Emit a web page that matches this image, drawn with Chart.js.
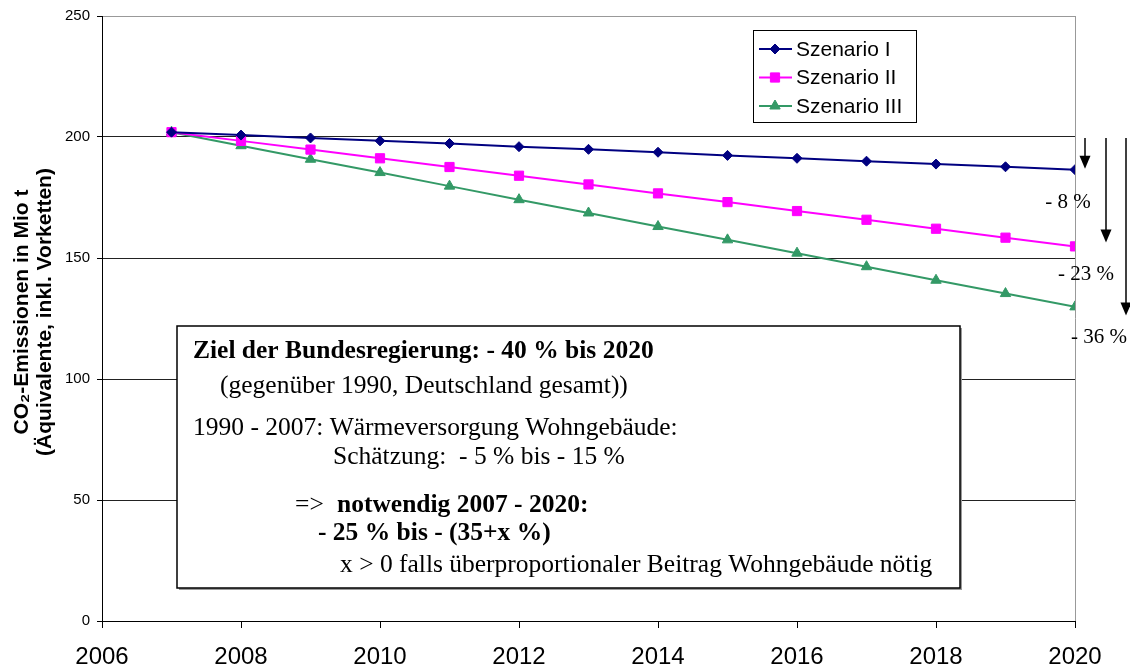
<!DOCTYPE html>
<html>
<head>
<meta charset="utf-8">
<script src="https://cdn.jsdelivr.net/npm/chart.js@4/dist/chart.umd.min.js"></script>
<style>
  html, body { margin: 0; padding: 0; background: #fff; }
  #wrap { width: 1130px; height: 670px; }
</style>
</head>
<body>
<div id="wrap"><canvas id="c" width="1130" height="670"></canvas></div>
<script>
// Daten
const years = [2007, 2008, 2009, 2010, 2011, 2012, 2013, 2014, 2015, 2016, 2017, 2018, 2019, 2020];
const szenario1 = [202, 200.8, 199.6, 198.4, 197.3, 196.0, 194.9, 193.7, 192.4, 191.2, 190.0, 188.8, 187.7, 186.5];
const szenario2 = [202, 198.4, 194.8, 191.2, 187.6, 184.0, 180.4, 176.7, 173.1, 169.4, 165.8, 162.1, 158.4, 154.8];
const szenario3 = [202, 196.4, 190.8, 185.3, 179.7, 174.1, 168.6, 163.0, 157.5, 152.0, 146.4, 140.8, 135.3, 129.8];
const seriesNames = ["Szenario I", "Szenario II", "Szenario III"];

// Pfeile rechts: von 200 bis ... und Beschriftung
const arrowFrom = 200;
const arrowTo = [186.9, 156.4, 126.2];
const arrowLabels = ["- 8 %", "- 23 %", "- 36 %"];
const arrowLabelY = [172.9, 143.2, 117.2];

const yTitle = ["CO\u2082-Emissionen in Mio t", "(\u00c4quivalente, inkl. Vorketten)"];

const SANS = "'Liberation Sans', Arial, sans-serif";
const SERIF = "'Liberation Serif', 'Times New Roman', serif";

function pts(vals) {
  return years.map((y, i) => ({ x: y, y: vals[i] }));
}

function drawArrow(ctx, x, y1, y2) {
  ctx.save();
  ctx.strokeStyle = "#000";
  ctx.fillStyle = "#000";
  ctx.lineWidth = 1.5;
  ctx.beginPath();
  ctx.moveTo(x, y1);
  ctx.lineTo(x, y2 - 10);
  ctx.stroke();
  ctx.beginPath();
  ctx.moveTo(x - 5.5, y2 - 13);
  ctx.lineTo(x + 5.5, y2 - 13);
  ctx.lineTo(x, y2);
  ctx.closePath();
  ctx.fill();
  ctx.restore();
}

const extras = {
  id: "extras",
  afterDatasetsDraw(chart) {
    const ctx = chart.ctx;
    const a = chart.chartArea;
    const ys = chart.scales.y;

    // y-Achsentitel
    ctx.save();
    ctx.translate(33, 312);
    ctx.rotate(-Math.PI / 2);
    ctx.font = "bold 21px " + SANS;
    ctx.fillStyle = "#000";
    ctx.textAlign = "center";
    ctx.textBaseline = "middle";
    ctx.fillText(yTitle[0], 0, -11);
    ctx.fillText(yTitle[1], 0, 12);
    ctx.restore();

    // Pfeile + Prozentangaben
    const offs = [10, 31, 51];
    const lblOffs = [-7, 11, 24];
    arrowTo.forEach((v, i) => {
      drawArrow(ctx, a.right + offs[i], ys.getPixelForValue(arrowFrom) + 1, ys.getPixelForValue(v));
    });
    ctx.save();
    ctx.font = "21px " + SERIF;
    ctx.fillStyle = "#000";
    ctx.textAlign = "center";
    ctx.textBaseline = "middle";
    arrowLabels.forEach((t, i) => {
      ctx.fillText(t, a.right + lblOffs[i], ys.getPixelForValue(arrowLabelY[i]));
    });
    ctx.restore();

    // Textkasten
    ctx.save();
    const bx = 177, by = 326, bw = 783, bh = 262;
    ctx.fillStyle = "#9a9a9a";
    ctx.fillRect(bx + 2, by + 2, bw, bh);
    ctx.fillStyle = "#fff";
    ctx.fillRect(bx, by, bw, bh);
    ctx.strokeStyle = "#000";
    ctx.lineWidth = 1.5;
    ctx.strokeRect(bx, by, bw, bh);
    ctx.fillStyle = "#000";
    ctx.textAlign = "left";
    ctx.textBaseline = "alphabetic";
    const B = "bold 25.5px " + SERIF, N = "25.5px " + SERIF;
    const lines = [
      [B, "Ziel der Bundesregierung: - 40 % bis 2020", 193, 358],
      [N, "(gegen\u00fcber 1990, Deutschland gesamt))", 220, 393],
      [N, "1990 - 2007: W\u00e4rmeversorgung Wohngeb\u00e4ude:", 193, 435],
      [N, "Sch\u00e4tzung:  - 5 % bis - 15 %", 333, 464],
      [N, "=>", 295, 512],
      [B, "notwendig 2007 - 2020:", 337, 512],
      [B, "- 25 % bis - (35+x %)", 318, 540],
      [N, "x > 0 falls \u00fcberproportionaler Beitrag Wohngeb\u00e4ude n\u00f6tig", 340, 572]
    ];
    lines.forEach(l => {
      ctx.font = l[0];
      ctx.fillText(l[1], l[2], l[3]);
    });
    ctx.restore();

    // Legende
    ctx.save();
    const lx = 753, ly = 30, lw = 163, lh = 92;
    ctx.fillStyle = "#fff";
    ctx.fillRect(lx, ly, lw, lh);
    ctx.strokeStyle = "#000";
    ctx.lineWidth = 1;
    ctx.strokeRect(lx + 0.5, ly + 0.5, lw, lh);
    const rows = [49, 77.5, 106];
    chart.data.datasets.forEach((ds, i) => {
      const y = rows[i];
      ctx.strokeStyle = ds.borderColor;
      ctx.lineWidth = 2;
      ctx.beginPath();
      ctx.moveTo(759, y);
      ctx.lineTo(792, y);
      ctx.stroke();
      ctx.fillStyle = ds.pointBackgroundColor;
      ctx.strokeStyle = ds.pointBorderColor;
      ctx.lineWidth = 1;
      Chart.helpers.drawPoint(ctx, {
        pointStyle: ds.pointStyle,
        radius: ds.pointRadius,
        borderWidth: 1
      }, 775, y);
      ctx.fillStyle = "#000";
      ctx.font = "21px " + SANS;
      ctx.textAlign = "left";
      ctx.textBaseline = "middle";
      ctx.fillText(ds.label, 796, y + 1);
    });
    ctx.restore();
  }
};

const colors = ["#000080", "#ff00ff", "#339966"];
const styles = ["rectRot", "rect", "triangle"];
const radii = [5, 6.5, 6];
const allSeries = [szenario1, szenario2, szenario3];

new Chart(document.getElementById("c"), {
  type: "line",
  data: {
    datasets: allSeries.map((s, i) => ({
      label: seriesNames[i],
      data: pts(s),
      borderColor: colors[i],
      backgroundColor: colors[i],
      pointBackgroundColor: colors[i],
      pointBorderColor: colors[i],
      pointStyle: styles[i],
      pointRadius: radii[i],
      pointBorderWidth: 1,
      borderWidth: 2,
      tension: 0,
      fill: false
    }))
  },
  options: {
    responsive: false,
    animation: false,
    layout: { padding: { top: 15, right: 55, left: 0, bottom: 0 } },
    plugins: { legend: { display: false }, tooltip: { enabled: false } },
    scales: {
      x: {
        type: "linear",
        min: 2006,
        max: 2020,
        ticks: {
          stepSize: 2,
          color: "#000",
          font: { family: SANS, size: 24 },
          padding: 15,
          maxRotation: 0,
          callback: v => String(v)
        },
        grid: {
          color: c => (c.tick && c.tick.value === 2020 ? "#999" : "rgba(0,0,0,0)"),
          tickColor: "#000",
          tickLength: 7,
          lineWidth: 1
        },
        border: { color: "#000", width: 1 },
        afterFit: s => { s.height = 49; }
      },
      y: {
        min: 0,
        max: 250,
        ticks: {
          stepSize: 50,
          color: "#000",
          font: { family: SANS, size: 15 },
          padding: 7
        },
        grid: {
          color: c => (c.tick && c.tick.value === 250 ? "#999" : "#222"),
          tickColor: "#000",
          tickLength: 5,
          lineWidth: 1
        },
        border: { color: "#000", width: 1 },
        afterFit: s => { s.width = 102; }
      }
    }
  },
  plugins: [extras]
});
</script>
</body>
</html>
